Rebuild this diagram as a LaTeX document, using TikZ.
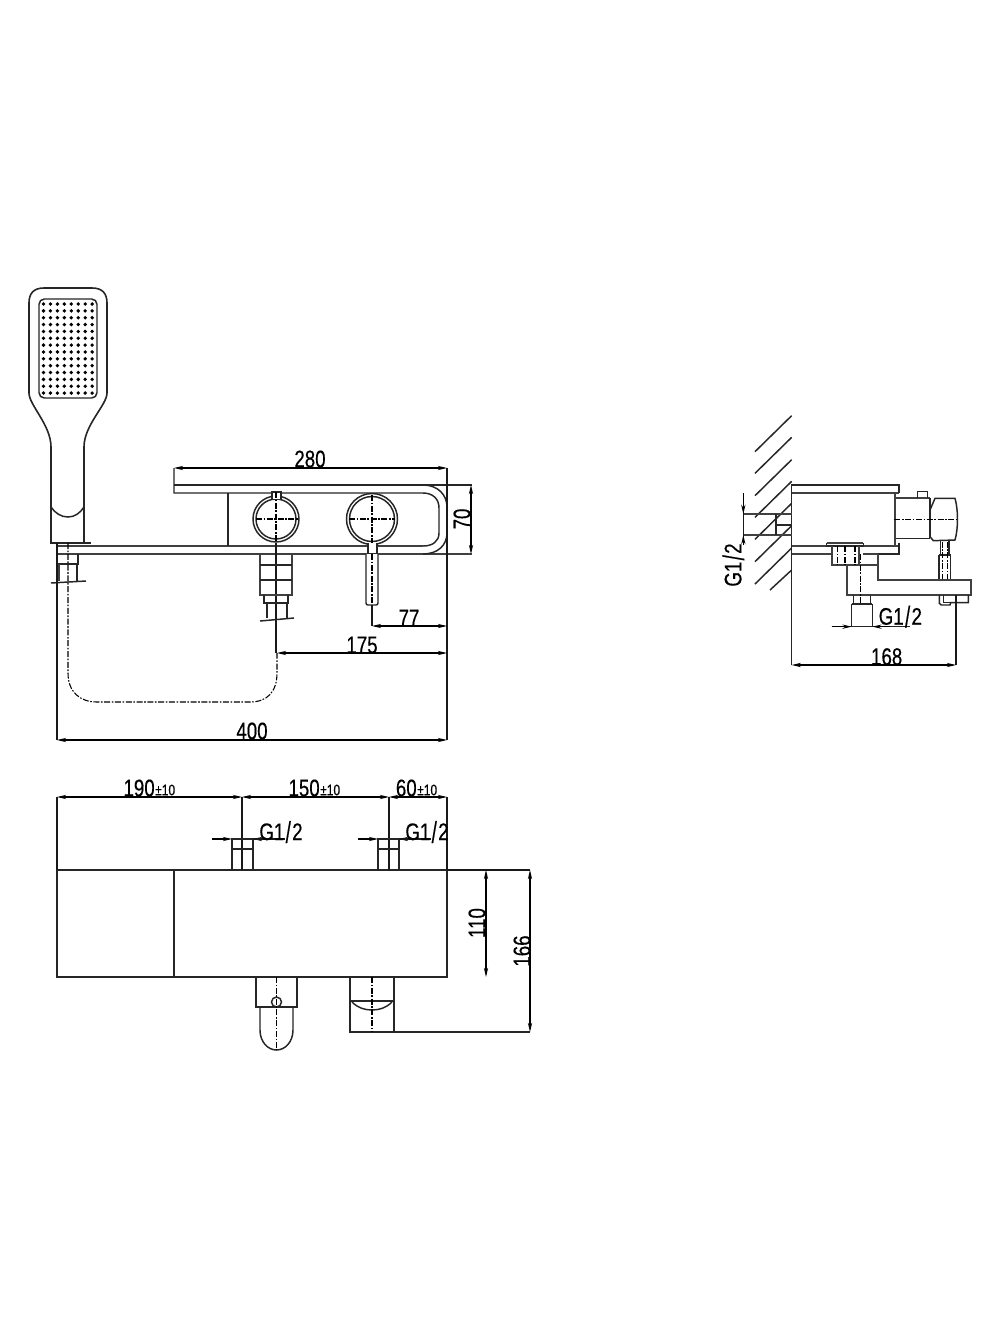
\documentclass[tikz,border=0pt]{standalone}
\usepackage{fontspec}
\usetikzlibrary{arrows.meta}
\newfontfamily\dimfont[FakeStretch=0.78,FakeBold=0.35]{Liberation Sans}
\newcommand{\gthread}{G1\kern1pt\raisebox{-2pt}{\scalebox{1}[1.25]{/}}\kern1pt 2}
\tikzset{
  ln/.style={line width=1.1pt,draw=black!85},
  thin ln/.style={line width=0.8pt,draw=black!90},
  thick ln/.style={line width=1.5pt,draw=black!75},
  ctr/.style={line width=0.8pt,draw=black,dash pattern=on 4.5pt off 1.2pt on 1.2pt off 1.2pt},
  dim/.style={line width=0.8pt,draw=black,{Stealth[length=7pt,width=3.2pt]}-{Stealth[length=7pt,width=3.2pt]}},
  endarr/.style={line width=0.8pt,draw=black,-{Stealth[length=7pt,width=3.2pt]}},
  lbl/.style={font=\dimfont\fontsize{18}{20}\selectfont,inner sep=0pt,text=black},
  pm/.style={font=\dimfont\fontsize{11.5}{12}\selectfont,inner sep=0pt}
}
\begin{document}
\begin{tikzpicture}[x=0.75pt,y=-0.75pt]
\useasboundingbox (0,0) rectangle (1000,1340);
\fill[white] (0,0) rectangle (1000,1340);
% --- shower head
\draw[ln,line width=1.2pt] (51,543) -- (51,447) .. controls (51,425) and (29,405) .. (29,393) -- (29,303)
  .. controls (29,293) and (34,288) .. (44,288) -- (92,288) .. controls (102,288) and (107,293) .. (107,303)
  -- (107,393) .. controls (107,405) and (84,425) .. (84,447) -- (84,543) -- cycle;
\draw[ln] (51,507) .. controls (55,513) and (61,517) .. (68,517) .. controls (75,517) and (80,513) .. (84,507);
\draw[ln,rounded corners=4pt] (39,299) rectangle (97,398);
\foreach \c in {0,...,7}\foreach \r in {0,...,13}
  \fill[black] ({43.5+\c*6.95},{304+\r*6.85}) circle (1.9);
% hose base
\draw[ln] (57,543) -- (91,543);
\draw[thick ln] (57,546) -- (423,546);
\draw[thick ln] (57,554) -- (472,554);
\draw[ln] (78,554) -- (78,564) -- (57,564);
\draw[ln] (77,564) -- (77,581);
\draw[thick ln] (58.5,564) -- (58.5,581);
\draw[ln] (51,583) -- (86,581);
\draw[thin ln] (57,543) -- (57,740);
\draw[ctr] (68,543) -- (68,673) .. controls (68,692) and (80,702) .. (97,702) -- (250,702)
  .. controls (267,702) and (277,692) .. (277,673) -- (277,653);
% --- front body
\draw[ln] (174,468) -- (174,493) -- (423,493) .. controls (433,493) and (439,499) .. (439,508) -- (439,533)
  .. controls (439,541) and (433,546) .. (423,546);
\draw[ln] (174,485) -- (472,485);
\draw[ln] (423,485) .. controls (438,485) and (447,495) .. (447,507) -- (447,533) .. controls (447,545) and (438,554) .. (423,554);
\draw[ln] (228,493) -- (228,546);
% knobs
\fill[white] (276,519) circle (23); \fill[white] (372,519) circle (25.5);
\draw[ln] (276,519) circle (23);
\draw[ln] (276,519) circle (20);
\draw[ln,fill=white] (272,499) -- (272,492) -- (281,492) -- (281,499);
\draw[ln] (372,519) circle (25.5);
\draw[ln] (372,519) circle (22.5);
\draw[ctr] (256,519) -- (298,519);
\draw[ctr] (349,519) -- (395,519);
\draw[ctr] (276,492) -- (276,543);
\draw[ctr] (372,495) -- (372,553);
\draw[thin ln] (276,543) -- (276,653);
% lever
\draw[ln,fill=white] (368,543) -- (368,554) -- (377,554) -- (377,543);
\draw[ln,fill=white,rounded corners=1.5pt] (366,554) -- (366,605) -- (378,605) -- (378,554);
\draw[ctr] (372,554) -- (372,605);
\draw[thin ln] (372,605) -- (372,626);
% left connector
\draw[thick ln] (260,554) -- (260,595) -- (292,595) -- (292,554);
\draw[ln] (260,565) -- (292,565);
\draw[ln] (260,580) -- (292,580);
\draw[ln] (264,595) -- (264,603) -- (288,603) -- (288,595);
\draw[ln] (267,603) -- (267,618);
\draw[ln] (287,603) -- (287,618);
\draw[ln] (260,621) -- (294,618);
% dimensions front
\draw[thin ln] (447,468) -- (447,740);
\draw[dim] (174,468) -- (447,468);
\draw[dim] (471,485) -- (471,554);
\draw[dim] (372,626) -- (447,626);
\draw[dim] (277,653) -- (447,653);
\draw[dim] (57,740) -- (447,740);
\node[lbl] (t280) at (310,459) {280};
\node[lbl,rotate=90] (t70) at (462,519) {70};
\node[lbl] (t77) at (409,618) {77};
\node[lbl] (t175) at (362,645) {175};
\node[lbl] (t400) at (252,731) {400};
% --- side view
\begin{scope}[shift={(700,410)},x=0.25pt,y=-0.25pt]
\foreach \a in {125,190,257,322,388,455,522}
  \draw[ln] (165,\a) -- (275,\a-108);
\draw[ln] (210,540) -- (275,480);
\draw[ln] (275,765) -- (275,225) -- (597,225) -- (597,248);
\draw[thick ln] (275,248) -- (597,248);
\draw[thick ln] (584,250) -- (584,408);
\draw[thick ln] (275,408) -- (380,408);
\draw[thick ln] (490,408) -- (597,408);
\draw[ln] (597,398) -- (597,432) -- (533,432);
\draw[thick ln] (275,432) -- (396,432);
\draw[thick ln] (490,432) -- (533,432);
% connector and knob
\draw[thick ln] (587,265) -- (690,265);
\draw[ln] (587,385) -- (690,385);
\draw[ln] (690,265) -- (690,385);
\draw[ln] (652,265) -- (652,245) -- (683,245) -- (683,265);
\draw[ln] (690,300) -- (705,265) -- (765,265) .. controls (775,300) and (775,355) .. (765,390) -- (700,392) -- (690,380);
\draw[ctr] (583,328) -- (772,328);
\draw[ln] (722,392) -- (722,435);
\draw[ln] (747,392) -- (747,435);
\draw[ln] (717,435) -- (752,435);
\draw[ln] (717,435) -- (717,510);
\draw[ln] (752,435) -- (752,510);
\draw[ctr] (727,395) -- (727,510);
\draw[ctr] (742,395) -- (742,510);
% spout
\draw[thick ln] (533,432) -- (533,510) -- (812,510) -- (812,555) -- (440,555) -- (440,465);
\draw[ln] (718,555) -- (718,580) -- (724,585) -- (750,585) -- (752,578) -- (805,578) -- (805,555);
\draw[ln] (730,555) -- (730,578) -- (752,578);
% flange
\draw[thick ln] (380,400) -- (490,400);
\draw[ln] (380,400) -- (380,408) -- (490,408) -- (490,400);
\draw[thick ln] (396,408) -- (396,465) -- (533,465);
\draw[thick ln] (476,408) -- (476,465);
\draw[ctr] (412,408) -- (412,465);
\draw[ctr] (435,408) -- (435,465);
\draw[ctr] (465,408) -- (465,465);
\draw[ctr] (482,432) -- (482,582);
% inlet below
\draw[ln] (460,555) -- (460,582);
\draw[ln] (512,555) -- (512,582);
\draw[ln] (455,582) -- (517,582);
\draw[ln] (455,582) -- (455,650);
\draw[ln] (517,582) -- (517,650);
\draw[ln] (395,650) -- (630,650);
\draw[endarr] (395,650) -- (455,650);
\draw[endarr] (570,650) -- (517,650);
% wall pipe
\draw[thick ln] (130,312) -- (275,312);
\draw[thick ln] (130,375) -- (275,375);
\draw[ln] (228,312) -- (228,375);
\draw[ln] (228,345) -- (275,345);
\draw[thin ln] (130,250) -- (130,405);
\draw[endarr] (130,250) -- (130,312);
\draw[endarr] (130,405) -- (130,375);
% 168
\draw[thin ln] (768,555) -- (768,765);
\draw[dim] (275,765) -- (768,765);
\coordinate (gs) at (601,620);
\coordinate (gr) at (100,465);
\coordinate (t168c) at (560,740);
\end{scope}
\node[lbl] (t168) at (t168c) {168};
\node[lbl] (g1) at (gs) {\gthread};
\node[lbl,rotate=90] (g2) at (gr) {\gthread};
% --- plan view
\draw[ln] (57,870) rectangle (447,977);
\draw[ln] (174,870) -- (174,977);
\draw[thin ln] (447,870) -- (530,870);
\draw[thin ln] (57,797) -- (57,870);
\draw[thin ln] (242,797) -- (242,870);
\draw[thin ln] (389,797) -- (389,870);
\draw[thin ln] (447,797) -- (447,870);
\draw[dim] (57,797) -- (242,797);
\draw[dim] (242,797) -- (389,797);
\draw[dim] (389,797) -- (447,797);
\node[lbl,anchor=east] (d190) at (155,788) {190};
\node[pm,anchor=west] (p190) at ([yshift=-1.5pt]d190.east) {±10};
\node[lbl,anchor=east] (d150) at (320,788) {150};
\node[pm,anchor=west] (p150) at ([yshift=-1.5pt]d150.east) {±10};
\node[lbl,anchor=east] (d60) at (417,788) {60};
\node[pm,anchor=west] (p60) at ([yshift=-1.5pt]d60.east) {±10};
% stubs
\foreach \x in {232,378}{
  \draw[ln] (\x,870) -- (\x,839) -- (\x+21,839) -- (\x+21,870);
  \draw[ln] (\x,849) -- (\x+21,849);
  \draw[endarr] (\x-20,839) -- (\x,839);
  \draw[endarr] (\x+36,839) -- (\x+21,839);
  \draw[thin ln] (\x+21,839) -- (\x+53,839);
}
\node[lbl] (g3) at (281,832) {\gthread};
\node[lbl] (g4) at (427,832) {\gthread};
% 110 / 166
\draw[dim] (486,870) -- (486,977);
\draw[dim] (530,870) -- (530,1032);
\node[lbl,rotate=90] (t110) at (477,923) {110};
\node[lbl,rotate=90] (t166) at (522,951) {166};
% handle below
\draw[ln] (256,977) -- (256,1007) -- (297,1007) -- (297,977);
\draw[ln] (260,1007) -- (260,1030) .. controls (260,1042) and (268,1050) .. (276.5,1050) .. controls (285,1050) and (293,1042) .. (293,1030) -- (293,1007);
\draw[ln] (276.5,1002) circle (5);
\draw[ctr] (276.5,977) -- (276.5,1050);
% spout below
\draw[ln] (350,977) -- (350,1032) -- (530,1032);
\draw[ln] (394,977) -- (394,1032);
\draw[ln] (350,1001) -- (394,1001);
\draw[ln] (352,1002) .. controls (358,1008) and (365,1010) .. (372,1010) .. controls (379,1010) and (386,1008) .. (392,1002);
\draw[ctr] (372,977) -- (372,1032);
\end{tikzpicture}
\end{document}
